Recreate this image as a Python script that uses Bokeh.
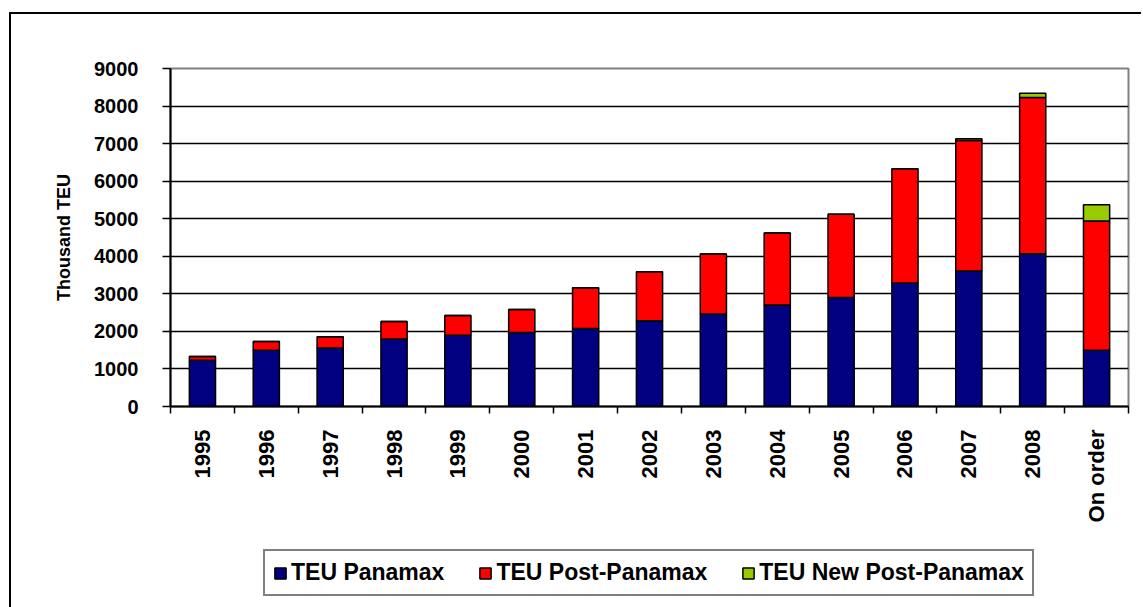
from bokeh.plotting import figure
from bokeh.layouts import column
from bokeh.models import Range1d, FixedTicker, Legend
from bokeh.embed import file_html
from bokeh.resources import INLINE
import math

categories = ["1995", "1996", "1997", "1998", "1999", "2000", "2001", "2002",
              "2003", "2004", "2005", "2006", "2007", "2008", "On order"]
teu_panamax = [1230, 1500, 1560, 1800, 1900, 1970, 2080, 2280, 2460, 2700,
               2900, 3290, 3610, 4070, 1500]
teu_post_panamax = [100, 230, 300, 460, 520, 610, 1080, 1310, 1600, 1920,
                    2220, 3040, 3470, 4160, 3440]
teu_new_post_panamax = [0, 0, 0, 0, 0, 0, 0, 0, 0, 0, 0, 0, 50, 110, 430]
y_ticks = [0, 1000, 2000, 3000, 4000, 5000, 6000, 7000, 8000, 9000]

series = ["TEU Panamax", "TEU Post-Panamax", "TEU New Post-Panamax"]
colors = ["#000080", "#FF0000", "#99CC00"]

FONT = "Liberation Sans"

n = len(categories)
centers = [i + 0.5 for i in range(n)]
edges = list(range(n + 1))

data = {"x": centers,
        series[0]: teu_panamax,
        series[1]: teu_post_panamax,
        series[2]: teu_new_post_panamax}

p = figure(width=1130, height=518, output_backend="svg", toolbar_location=None,
           x_range=Range1d(0, n), y_range=Range1d(y_ticks[0], y_ticks[-1]),
           min_border_left=159, min_border_right=13, min_border_top=54,
           min_border_bottom=126)

p.outline_line_color = "#808080"
p.outline_line_width = 2

p.vbar_stack(series, x="x", width=0.41, source=data,
             fill_color=colors, line_color="black", line_width=1.5)

# grid
p.xgrid.visible = False
p.ygrid.ticker = FixedTicker(ticks=y_ticks[1:-1])
p.ygrid.grid_line_color = "black"
p.ygrid.grid_line_width = 1.5

# y axis
p.yaxis.ticker = FixedTicker(ticks=y_ticks)
p.yaxis.axis_line_width = 2
p.yaxis.axis_line_color = "black"
p.yaxis.major_tick_out = 8
p.yaxis.major_tick_in = 0
p.yaxis.major_tick_line_width = 1.5
p.yaxis.minor_tick_line_color = None
p.yaxis.major_label_text_font = FONT
p.yaxis.major_label_text_font_style = "bold"
p.yaxis.major_label_text_font_size = "20px"
p.yaxis.major_label_text_color = "black"
p.yaxis.major_label_standoff = 24
p.yaxis.axis_label = "Thousand TEU"
p.yaxis.axis_label_text_font = FONT
p.yaxis.axis_label_text_font_style = "bold"
p.yaxis.axis_label_text_font_size = "18px"
p.yaxis.axis_label_text_color = "black"
p.yaxis.axis_label_standoff = 17

# x axis
p.xaxis.ticker = FixedTicker(ticks=centers, minor_ticks=edges)
p.xaxis.major_label_overrides = {c: lab for c, lab in zip(centers, categories)}
p.xaxis.axis_line_width = 2
p.xaxis.axis_line_color = "black"
p.xaxis.major_tick_out = 0
p.xaxis.major_tick_in = 0
p.xaxis.minor_tick_out = 7
p.xaxis.minor_tick_in = 0
p.xaxis.minor_tick_line_width = 1.5
p.xaxis.minor_tick_line_color = "black"
p.xaxis.major_label_orientation = math.pi / 2
p.xaxis.major_label_text_font = FONT
p.xaxis.major_label_text_font_style = "bold"
p.xaxis.major_label_text_font_size = "22px"
p.xaxis.major_label_text_color = "black"
p.xaxis.major_label_standoff = 16

# legend strip below the chart; its bar renderers are hidden so that only
# their legend swatches show
lg = figure(width=1130, height=77, output_backend="svg", toolbar_location=None,
            x_range=Range1d(-n - 2, -n - 1), y_range=Range1d(0, 1),
            x_axis_type=None, y_axis_type=None,
            min_border_left=159, min_border_right=13, min_border_top=0,
            min_border_bottom=0)
lg.outline_line_color = None
lg.border_fill_color = "white"
lg.background_fill_color = "white"
lg.xgrid.visible = False
lg.ygrid.visible = False
swatches = lg.vbar_stack(series, x="x", width=0.41, source=data,
                         fill_color=colors, line_color="black", line_width=1.5)
for r in swatches:
    r.visible = False

legend = Legend(items=[(s, [r]) for s, r in zip(series, swatches)],
                orientation="horizontal", location=(93, 13))
legend.label_text_font = FONT
legend.label_text_font_style = "bold"
legend.label_text_font_size = "23px"
legend.label_text_color = "black"
legend.glyph_width = 14
legend.glyph_height = 14
legend.label_standoff = 4
legend.spacing = 34
legend.padding = 8
legend.margin = 0
legend.border_line_color = "black"
legend.border_line_width = 2
legend.background_fill_color = "white"
legend.background_fill_alpha = 1
legend.inactive_fill_alpha = 0
lg.add_layout(legend, "center")

layout = column(p, lg, spacing=0)
layout.margin = (12, 0, 0, 9)
layout.styles = {"border-left": "2px solid black", "border-top": "2px solid black"}

open("out.html", "w").write(file_html(layout, INLINE))
